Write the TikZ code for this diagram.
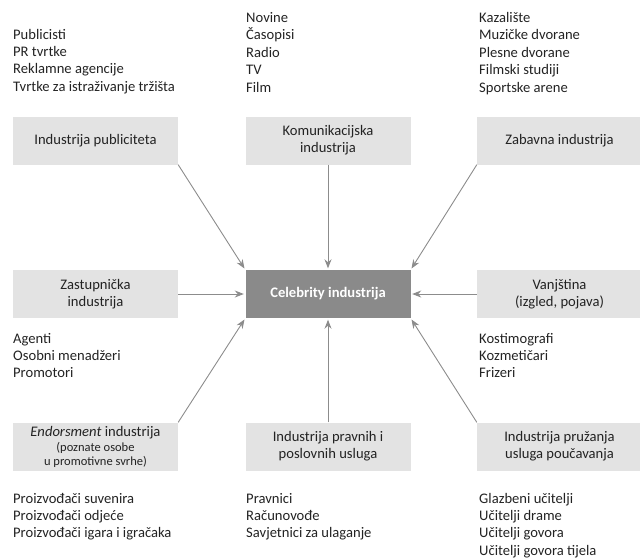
\documentclass[tikz,border=0pt]{standalone}
\usepackage{fontspec}
\setmainfont{Carlito}
\usetikzlibrary{arrows.meta}
\definecolor{boxgray}{HTML}{E3E3E3}
\definecolor{centgray}{HTML}{8A8A8A}
\definecolor{txt}{HTML}{232323}
\definecolor{arr}{HTML}{8C8C8C}
\newcommand{\lst}[1]{\begin{tabular}[t]{@{}l@{}}#1\end{tabular}}
\tikzset{
  box/.style={fill=boxgray, minimum width=165pt, minimum height=48pt, inner sep=0pt,
    align=center, text=txt, font=\fontsize{14.6}{17}\selectfont},
  cbox/.style={fill=centgray, minimum width=165pt, minimum height=48pt, inner sep=0pt,
    align=center, text=white, font=\fontsize{14.6}{17}\selectfont\bfseries},
  listtext/.style={anchor=base west, inner sep=0pt, text=txt, font=\fontsize{14.6}{17.4}\selectfont},
  conn/.style={draw=arr, line width=0.9pt, -{Stealth[length=9pt,width=7pt]}, shorten >=1.5pt}
}
\begin{document}
\begin{tikzpicture}[x=1pt,y=-1pt]
\useasboundingbox (0,0) rectangle (640,558);
% boxes
\node[box] (tl) at (95.5,140.5) {Industrija publiciteta};
\node[box] (tm) at (328,140.5) {Komunikacijska\\industrija};
\node[box] (tr) at (559.5,140.5) {Zabavna industrija};
\node[box] (ml) at (95.5,294) {Zastupnička\\industrija};
\node[cbox] (c) at (328,294) {Celebrity industrija};
\node[box] (mr) at (559.5,294) {Vanjština\\(izgled, pojava)};
\node[box] (bl) at (95.5,446.5) {\textit{Endorsment} industrija\\[-2pt]{\fontsize{12.5}{14}\selectfont (poznate osobe}\\[-3pt]{\fontsize{12.5}{14}\selectfont u promotivne svrhe)}};
\node[box] (bm) at (328,446.5) {Industrija pravnih i\\poslovnih usluga};
\node[box] (br) at (559.5,446.5) {Industrija pružanja\\usluga poučavanja};
% lists
\node[listtext] (l1) at (13,39) {\lst{Publicisti\\PR tvrtke\\Reklamne agencije\\Tvrtke za istraživanje tržišta}};
\node[listtext] (l2) at (246,22.5) {\lst{Novine\\Časopisi\\Radio\\TV\\Film}};
\node[listtext] (l3) at (479,22.5) {\lst{Kazalište\\Muzičke dvorane\\Plesne dvorane\\Filmski studiji\\Sportske arene}};
\node[listtext] (l4) at (13,343) {\lst{Agenti\\Osobni menadžeri\\Promotori}};
\node[listtext] (l5) at (479,343) {\lst{Kostimografi\\Kozmetičari\\Frizeri}};
\node[listtext] (l6) at (13,503) {\lst{Proizvođači suvenira\\Proizvođači odjeće\\Proizvođači igara i igračaka}};
\node[listtext] (l7) at (246,503) {\lst{Pravnici\\Računovođe\\Savjetnici za ulaganje}};
\node[listtext] (l8) at (479,503) {\lst{Glazbeni učitelji\\Učitelji drame\\Učitelji govora\\Učitelji govora tijela}};
% connectors
\draw[conn] (tl.south east) -- (c.north west);
\draw[conn] (tm.south) -- (c.north);
\draw[conn] (tr.south west) -- (c.north east);
\draw[conn] (ml.east) -- (c.west);
\draw[conn] (mr.west) -- (c.east);
\draw[conn] (bl.north east) -- (c.south west);
\draw[conn] (bm.north) -- (c.south);
\draw[conn] (br.north west) -- (c.south east);
\end{tikzpicture}
\end{document}
